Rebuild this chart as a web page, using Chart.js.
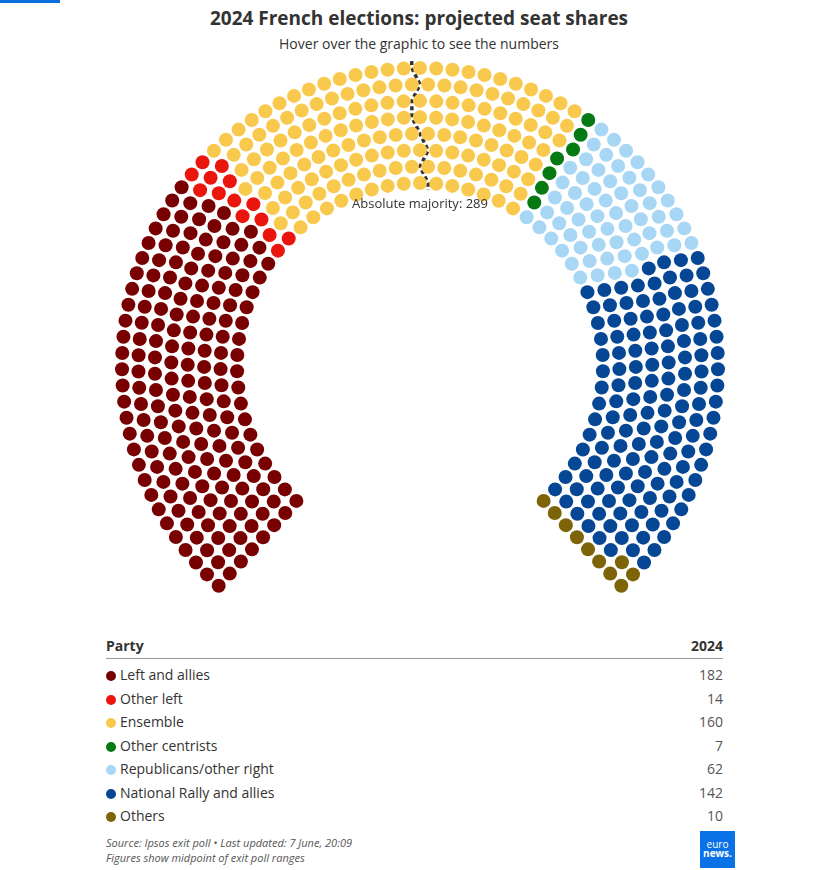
<!DOCTYPE html>
<html>
<head>
<meta charset="utf-8">
<script src="https://cdn.jsdelivr.net/npm/chart.js@4.4.1/dist/chart.umd.min.js"></script>
<style>
  body { margin: 0; background: #fff; font-family: "Open Sans", sans-serif; color: #333; }
  #page { position: relative; width: 838px; height: 870px; overflow: hidden; }
  #bar { position: absolute; left: 0; top: 0; width: 60px; height: 3px; background: #0a6fdc; }
  #title { position: absolute; top: 5px; left: 0; width: 838px; text-align: center; font-size: 19px; font-weight: 700; color: #333; }
  #sub { position: absolute; top: 34px; left: 0; width: 838px; text-align: center; font-size: 14px; color: #333; }
  #seats { position: absolute; left: 0; top: 55px; }
  .row { position: absolute; left: 106px; width: 617px; height: 22px; font-size: 14px; line-height: 22px; }
  .row .val { position: absolute; right: 0; top: 0; color: #555; }
  .row .dot { display: inline-block; width: 10px; height: 10px; border-radius: 5px; margin-right: 4px; vertical-align: -1px; }
  #head { font-weight: 700; border-bottom: 1px solid #999; height: 23px; }
  #head .val { color: #333; }
  .src { position: absolute; left: 106px; font-size: 11px; font-style: italic; color: #555; }
  #logo { position: absolute; left: 700px; top: 831px; width: 35px; height: 37px; background: #0a72e6; color: #fff; font-size: 10px; line-height: 9px; text-align: center; padding-top: 9px; box-sizing: border-box; }
</style>
</head>
<body>
<div id="page">
  <div id="bar"></div>
  <div id="title">2024 French elections: projected seat shares</div>
  <div id="sub">Hover over the graphic to see the numbers</div>
  <canvas id="seats" width="838" height="560"></canvas>
  <div id="table"></div>
  <div class="src" style="top:835px">Source: Ipsos exit poll • Last updated: 7 June, 20:09</div>
  <div class="src" style="top:850px">Figures show midpoint of exit poll ranges</div>
  <div id="logo">euro<br><b>news.</b></div>
</div>
<script>
var parties = ['Left and allies', 'Other left', 'Ensemble', 'Other centrists', 'Republicans/other right', 'National Rally and allies', 'Others'];
var seats = [182, 14, 160, 7, 62, 142, 10];
var colours = ['#780000', '#ea160e', '#f9c94e', '#067a12', '#a8d6f5', '#064795', '#7d6408'];
var majority = 289;

// hemicycle geometry (pixels, centre of the arc at 0,0)
var rowCount = 8, innerR = 183, outerR = 298;
var fullAngle = 275 * Math.PI / 180, startAngle = -fullAngle / 2;

var total = seats.reduce(function (a, b) { return a + b; }, 0);
var rows = [];
for (var i = rowCount - 1; i >= 0; i--) {
  rows.push({ r: innerR + i * (outerR - innerR) / (rowCount - 1) });
}
function countSlots(step) {
  var n = 0;
  rows.forEach(function (row) {
    row.len = fullAngle * row.r;
    row.cols = Math.ceil(row.len / step);
    n += row.cols + 1;
  });
  return n;
}
var step = 20;
while (countSlots(step) < total) step -= 0.01;
var over = countSlots(step) - total;
while (over > 0) {
  rows.map(function (row) { return { a: row.cols / row.len, row: row }; })
    .sort(function (p, q) { return q.a - p.a; })
    .slice(0, Math.min(over, Math.ceil(rows.length / 2)))
    .forEach(function (o) { if (over > 0) { o.row.cols--; over--; } });
}
var slots = [];
rows.forEach(function (row, ri) {
  var inc = fullAngle / row.cols;
  for (var c = 0; c <= row.cols; c++) {
    var a = startAngle + c * inc;
    slots.push({ a: a, row: ri, x: row.r * Math.sin(a), y: row.r * Math.cos(a) });
  }
});
// by angle; seats on the same angle go inner row first
slots.sort(function (p, q) {
  if (Math.abs(p.a - q.a) > 1e-9) return p.a - q.a;
  return q.row - p.row;
});

var datasets = [];
var k = 0;
parties.forEach(function (name, pi) {
  var pts = [];
  for (var j = 0; j < seats[pi]; j++, k++) pts.push({ x: slots[k].x, y: slots[k].y });
  datasets.push({
    label: name,
    data: pts,
    pointRadius: 7,
    pointHoverRadius: 8,
    pointBorderWidth: 0,
    backgroundColor: colours[pi],
    borderColor: colours[pi]
  });
});

// majority line: drawn between seat 288 and 289 in each row
var line = [];
rows.forEach(function (row, ri) {
  var before = -Infinity, after = Infinity;
  slots.forEach(function (s, idx) {
    if (s.row !== ri) return;
    if (idx < majority - 1) before = Math.max(before, s.a);
    else after = Math.min(after, s.a);
  });
  row.mid = (before + after) / 2;
  line.push({ x: row.r * Math.sin(row.mid), y: row.r * Math.cos(row.mid) });
});
var first = rows[0], last = rows[rows.length - 1];
line.unshift({ x: (first.r + 7) * Math.sin(first.mid), y: (first.r + 7) * Math.cos(first.mid) });
line.push({ x: (last.r - 7) * Math.sin(last.mid), y: (last.r - 7) * Math.cos(last.mid) });
datasets.push({
  type: 'line',
  label: 'Absolute majority',
  data: line,
  borderColor: '#333',
  borderWidth: 3.5,
  borderDash: [4, 3],
  pointRadius: 0,
  tension: 0,
  fill: false
});

var majorityLabel = {
  id: 'majorityLabel',
  afterDatasetsDraw: function (chart) {
    var ctx = chart.ctx;
    ctx.save();
    ctx.font = '13px "Open Sans", sans-serif';
    ctx.fillStyle = '#333';
    ctx.textAlign = 'center';
    ctx.textBaseline = 'middle';
    ctx.fillText('Absolute majority: ' + majority, chart.scales.x.getPixelForValue(0), chart.scales.y.getPixelForValue(innerR - 21));
    ctx.restore();
  }
};

new Chart(document.getElementById('seats').getContext('2d'), {
  type: 'scatter',
  data: { datasets: datasets },
  options: {
    responsive: false,
    animation: false,
    layout: { padding: 0, autoPadding: false },
    plugins: { legend: { display: false }, tooltip: { enabled: true } },
    scales: {
      x: { display: false, min: -420, max: 418 },
      y: { display: false, min: -249, max: 311 }
    }
  },
  plugins: [majorityLabel]
});

// table below the chart
var table = document.getElementById('table');
var html = '<div class="row" id="head" style="top:635px">Party<span class="val">2024</span></div>';
parties.forEach(function (name, pi) {
  var top = 664 + pi * 23.5;
  html += '<div class="row" style="top:' + top + 'px"><span class="dot" style="background:' + colours[pi] + '"></span>' +
    name + '<span class="val">' + seats[pi] + '</span></div>';
});
table.innerHTML = html;
</script>
</body>
</html>
